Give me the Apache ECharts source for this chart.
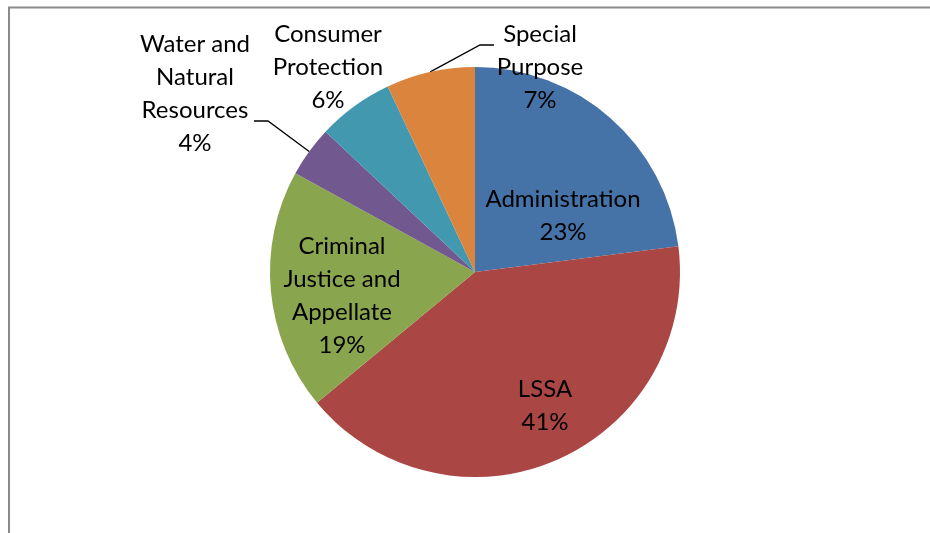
<!DOCTYPE html>
<html>
<head>
<meta charset="utf-8">
<script src="https://cdn.jsdelivr.net/npm/echarts@6/dist/echarts.min.js"></script>
<style>html,body{margin:0;padding:0;background:#fff}#c{width:930px;height:533px}</style>
</head>
<body>
<div id="c"></div>
<script>
const categories = ["Administration", "LSSA", "Criminal\nJustice and\nAppellate", "Water and\nNatural\nResources", "Consumer\nProtection", "Special\nPurpose"];
const values = [23, 41, 19, 4, 6, 7];
const colors = ["#4572A7", "#AA4643", "#89A54E", "#71588F", "#4198AF", "#DB843D"];
const labelCenters = [[563, 216], [545, 406], [342, 296], [195, 94], [328, 67], [540, 67]];
const labelOutside = [false, false, false, true, true, true];
// leader line: [elbow, end] for labels that have one
const leaderPaths = [null, null, null, [[268, 121], [254, 121]], null, [[480, 45], [494, 45]]];

const chart = echarts.init(document.getElementById('c'), null, {renderer: 'canvas'});
const data = categories.map((n, i) => ({
  name: n, value: values[i],
  itemStyle: {color: colors[i]},
  label: {position: labelOutside[i] ? 'outside' : 'inside'},
  labelLine: {show: !!leaderPaths[i], lineStyle: {color: '#000', width: 1.3}, length: 10, length2: 10}
}));
chart.setOption({
  animation: false,
  graphic: [{type: 'rect', shape: {x: 9, y: 7.5, width: 1000, height: 1000}, style: {fill: 'none', stroke: '#8a8a8a', lineWidth: 2}, silent: true}],
  series: [{
    type: 'pie',
    center: [475, 272],
    radius: 205,
    startAngle: 90,
    clockwise: true,
    avoidLabelOverlap: false,
    itemStyle: {borderWidth: 0},
    label: {
      show: true,
      formatter: '{b}\n{d}%',
      color: '#000',
      fontFamily: 'Lato',
      fontSize: 24,
      lineHeight: 33,
      align: 'center'
    },
    labelLayout: function (p) {
      const i = p.dataIndex;
      const c = labelCenters[i];
      const o = {x: c[0], y: c[1], align: 'center', verticalAlign: 'middle'};
      if (leaderPaths[i] && p.labelLinePoints) {
        o.labelLinePoints = [p.labelLinePoints[0]].concat(leaderPaths[i]);
      }
      return o;
    },
    data: data
  }]
});
</script>
</body>
</html>
